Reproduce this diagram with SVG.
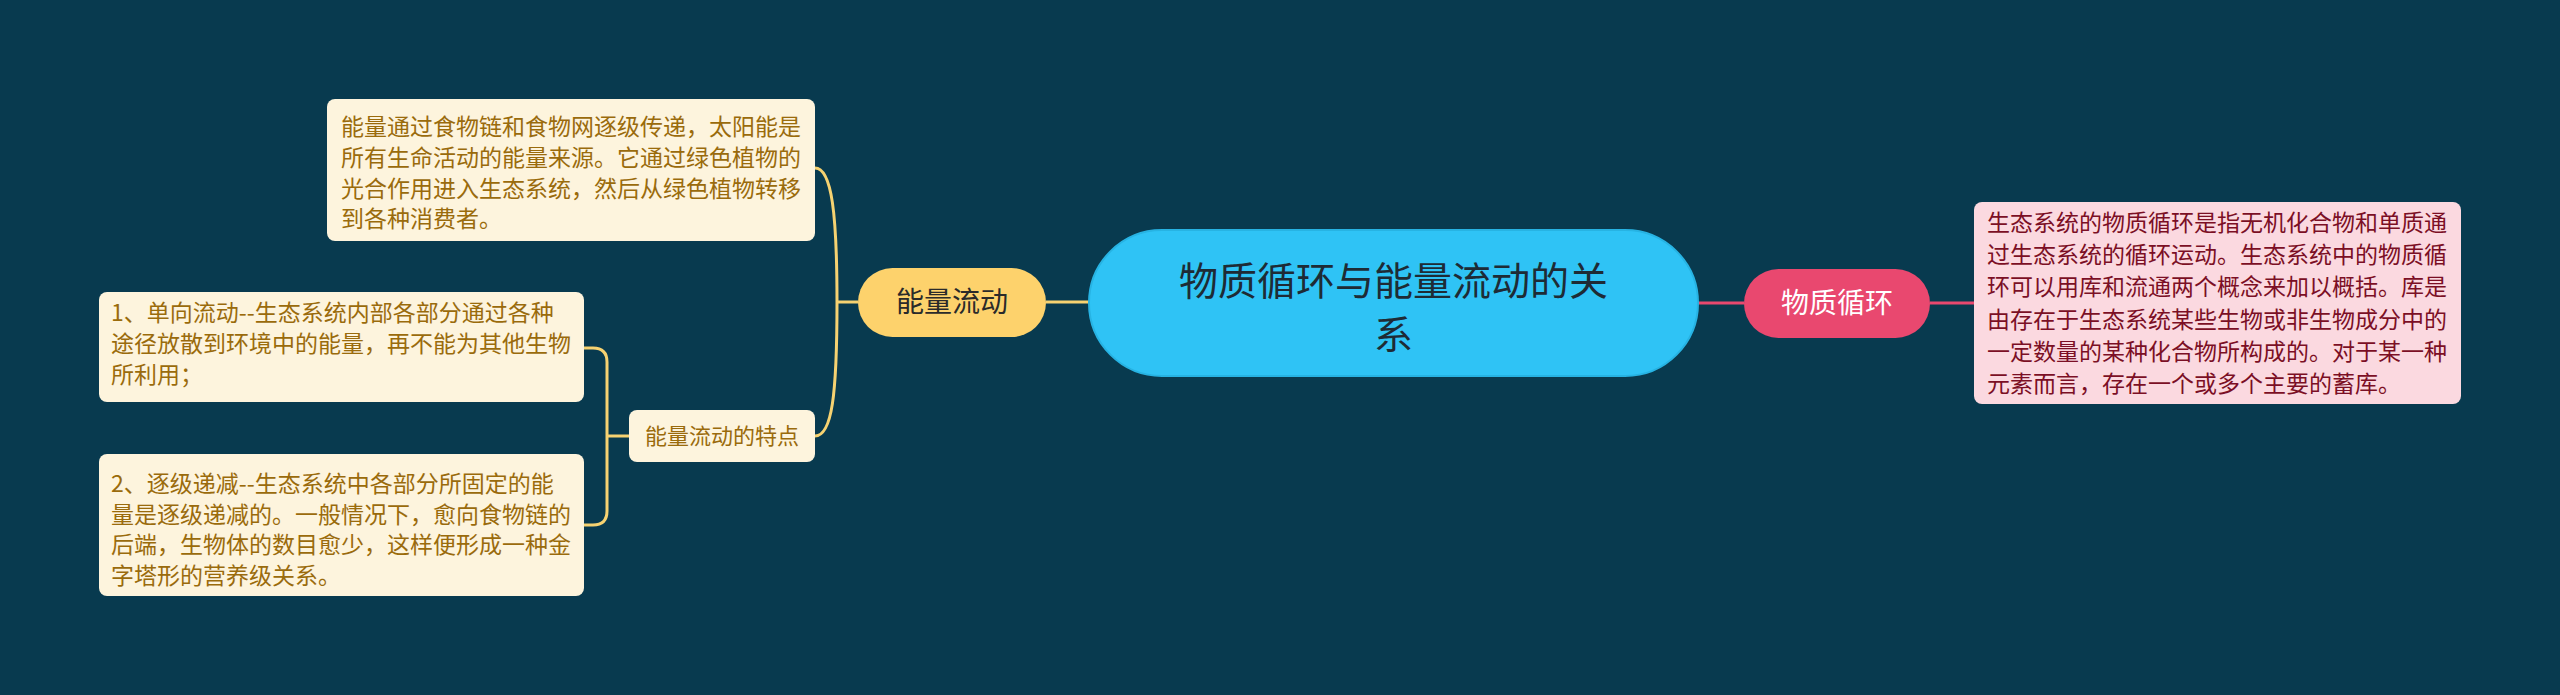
<svg xmlns="http://www.w3.org/2000/svg" width="2560" height="695" viewBox="0 0 2560 695">
<style>
text{font-family:"Noto Sans CJK SC","Noto Sans",sans-serif;}
.y{fill:none;stroke:#f6d271;stroke-width:3;}
.p{fill:none;stroke:#e9486f;stroke-width:3;}
.cream{fill:#fdf4dd;}
.bt{fill:#9a6b0c;font-size:23px;}
.pt{fill:#7b0f25;font-size:23px;}
</style>
<rect x="0" y="0" width="2560" height="695" fill="#083a4f"/>
<g id="connectors">
<path class="y" d="M1089 302 L1046 302"/>
<path class="y" d="M858 302 L837 302"/>
<path class="y" d="M837 302 C837 215 832 168 815 168"/>
<path class="y" d="M837 302 C837 395 832 436 815 436"/>
<path class="y" d="M629 436 L607 436"/>
<path class="y" d="M584 348 L593 348 Q607 348 607 362 L607 511 Q607 525 593 525 L584 525"/>
<path class="p" d="M1698 303 L1744 303"/>
<path class="p" d="M1930 303 L1974 303"/>
</g>
<g id="central">
<rect x="1089" y="230" width="609" height="146" rx="73" fill="#2fc3f5" stroke="#27b3e3" stroke-width="2"/>
<text x="1393.5" y="295" font-size="39" fill="#1e2b35" text-anchor="middle">物质循环与能量流动的关</text>
<text x="1393.5" y="349" font-size="39" fill="#1e2b35" text-anchor="middle">系</text>
</g>
<g id="energy">
<rect x="858" y="268" width="188" height="69" rx="34.5" fill="#fdd26c"/>
<text x="952" y="312" font-size="28" fill="#2a2a2a" text-anchor="middle">能量流动</text>
</g>
<g id="energy-desc">
<rect class="cream" x="327" y="99" width="488" height="142" rx="8"/>
<text class="bt" x="341" y="135">能量通过食物链和食物网逐级传递，太阳能是</text>
<text class="bt" x="341" y="166">所有生命活动的能量来源。它通过绿色植物的</text>
<text class="bt" x="341" y="197">光合作用进入生态系统，然后从绿色植物转移</text>
<text class="bt" x="341" y="227">到各种消费者。</text>
</g>
<g id="energy-feature">
<rect class="cream" x="629" y="410" width="186" height="52" rx="8"/>
<text x="722" y="444" font-size="22" fill="#9a6b0c" text-anchor="middle">能量流动的特点</text>
</g>
<g id="feature-1">
<rect class="cream" x="99" y="292" width="485" height="110" rx="8"/>
<text class="bt" x="111" y="321">1、单向流动--生态系统内部各部分通过各种</text>
<text class="bt" x="111" y="352">途径放散到环境中的能量，再不能为其他生物</text>
<text class="bt" x="111" y="383">所利用；</text>
</g>
<g id="feature-2">
<rect class="cream" x="99" y="454" width="485" height="142" rx="8"/>
<text class="bt" x="111" y="492">2、逐级递减--生态系统中各部分所固定的能</text>
<text class="bt" x="111" y="523">量是逐级递减的。一般情况下，愈向食物链的</text>
<text class="bt" x="111" y="553">后端，生物体的数目愈少，这样便形成一种金</text>
<text class="bt" x="111" y="584">字塔形的营养级关系。</text>
</g>
<g id="matter">
<rect x="1744" y="269" width="186" height="69" rx="34.5" fill="#e9486f"/>
<text x="1837" y="313" font-size="28" fill="#ffffff" text-anchor="middle">物质循环</text>
</g>
<g id="matter-desc">
<rect x="1974" y="202" width="487" height="202" rx="8" fill="#fbd9e0"/>
<text class="pt" x="1987" y="231">生态系统的物质循环是指无机化合物和单质通</text>
<text class="pt" x="1987" y="263">过生态系统的循环运动。生态系统中的物质循</text>
<text class="pt" x="1987" y="295">环可以用库和流通两个概念来加以概括。库是</text>
<text class="pt" x="1987" y="328">由存在于生态系统某些生物或非生物成分中的</text>
<text class="pt" x="1987" y="360">一定数量的某种化合物所构成的。对于某一种</text>
<text class="pt" x="1987" y="392">元素而言，存在一个或多个主要的蓄库。</text>
</g>
</svg>
